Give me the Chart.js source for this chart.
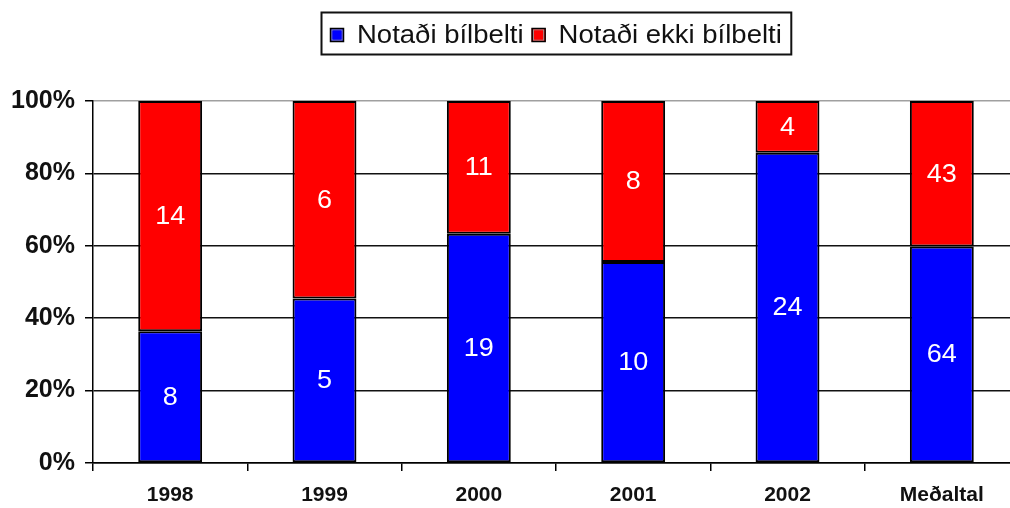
<!DOCTYPE html>
<html>
<head>
<meta charset="utf-8">
<script src="https://cdn.jsdelivr.net/npm/chart.js@4.4.1/dist/chart.umd.min.js"></script>
<style>
html, body { margin: 0; padding: 0; background: #fff; overflow: hidden; }
#wrap { width: 1030px; height: 508px; }
</style>
</head>
<body>
<div id="wrap"><canvas id="myChart" width="1030" height="508"></canvas></div>
<script>
// data
const years = ['1998', '1999', '2000', '2001', '2002', 'Meðaltal'];
const usedBelt = [8, 5, 19, 10, 24, 64];
const noBelt = [14, 6, 11, 8, 4, 43];
const seriesNames = ['Notaði bílbelti', 'Notaði ekki bílbelti'];
const seriesColors = ['#0000ff', '#ff0000'];
const yTicks = [0, 20, 40, 60, 80, 100];

// 100% stacked: share of each year
const usedPct = usedBelt.map((v, i) => v / (v + noBelt[i]) * 100);
const noPct = noBelt.map((v, i) => v / (v + usedBelt[i]) * 100);
const counts = [usedBelt, noBelt];

const FONT = '"Liberation Sans", Arial, sans-serif';

// white count labels inside each segment
const countLabels = {
    id: 'countLabels',
    afterDatasetsDraw(chart) {
        const ctx = chart.ctx;
        ctx.save();
        ctx.fillStyle = '#fff';
        ctx.font = '25px ' + FONT;
        ctx.textAlign = 'center';
        ctx.textBaseline = 'middle';
        chart.data.datasets.forEach((ds, di) => {
            chart.getDatasetMeta(di).data.forEach((bar, i) => {
                const p = bar.getProps(['x', 'y', 'base'], true);
                ctx.save();
                ctx.translate(p.x, (p.y + p.base) / 2 + 1);
                ctx.scale(1.08, 1);
                ctx.fillText(String(counts[di][i]), 0, 0);
                ctx.restore();
            });
        });
        ctx.restore();
    }
};

// boxed legend like the excel one
const boxLegend = {
    id: 'boxLegend',
    afterDraw(chart) {
        const ctx = chart.ctx;
        const area = chart.chartArea;
        ctx.save();
        ctx.font = '25px ' + FONT;
        const sx = 1.1;
        const sq = 14, gap = 13, pad = 9, between = 8;
        let total = pad * 2;
        seriesNames.forEach((n, i) => {
            total += sq + gap + ctx.measureText(n).width * sx;
            if (i < seriesNames.length - 1) total += between;
        });
        const cx = (area.left + area.right) / 2;
        let x = Math.round(cx - total / 2);
        const top = 12, h = 42;
        ctx.strokeStyle = '#111';
        ctx.lineWidth = 2;
        ctx.strokeRect(x + 0.5, top + 0.5, total, h);
        x += pad;
        seriesNames.forEach((n, i) => {
            ctx.fillStyle = seriesColors[i];
            ctx.fillRect(x, 28, sq, sq);
            ctx.strokeStyle = '#000';
            ctx.lineWidth = 1.5;
            ctx.strokeRect(x + 0.5, 28.5, sq - 1, sq - 1);
            ctx.strokeStyle = '#9a9a9a';
            ctx.lineWidth = 1;
            ctx.strokeRect(x + 2, 30, sq - 4, sq - 4);
            ctx.fillStyle = seriesColors[i];
            ctx.fillRect(x + 2.5, 30.5, sq - 5, sq - 5);
            x += sq + gap;
            ctx.fillStyle = '#111';
            ctx.textBaseline = 'alphabetic';
            ctx.save();
            ctx.translate(x, 43);
            ctx.scale(sx, 1);
            ctx.fillText(n, 0, 0);
            ctx.restore();
            x += ctx.measureText(n).width * sx + between;
        });
        ctx.restore();
    }
};

const ctx = document.getElementById('myChart');

new Chart(ctx, {
    type: 'bar',
    data: {
        labels: years,
        datasets: [{
            label: seriesNames[0],
            data: usedPct,
            backgroundColor: seriesColors[0],
            borderColor: '#000',
            borderWidth: 2,
            borderSkipped: false
        }, {
            label: seriesNames[1],
            data: noPct,
            backgroundColor: seriesColors[1],
            borderColor: '#000',
            borderWidth: 2,
            borderSkipped: false
        }]
    },
    options: {
        responsive: false,
        animation: false,
        devicePixelRatio: 1,
        barPercentage: 0.414,
        categoryPercentage: 1,
        layout: { padding: { top: 101, right: 11, left: 0, bottom: 0 } },
        plugins: {
            legend: { display: false },
            tooltip: { enabled: false }
        },
        scales: {
            x: {
                stacked: true,
                grid: {
                    offset: true,
                    drawOnChartArea: false,
                    tickLength: 8,
                    tickColor: '#000',
                    lineWidth: 1.5
                },
                border: { color: '#000', width: 1.5 },
                ticks: {
                    color: '#111',
                    font: { family: FONT, size: 21, weight: 'bold' },
                    padding: 12,
                    maxRotation: 0
                },
                afterFit(scale) { scale.height = 45; }
            },
            y: {
                stacked: true,
                min: 0,
                max: 100,
                afterBuildTicks(scale) { scale.ticks = yTicks.map(v => ({ value: v })); },
                grid: {
                    color: c => (c.tick && c.tick.value === 100) ? '#a0a0a0' : '#111',
                    tickColor: '#000',
                    tickLength: 8,
                    lineWidth: 1.5
                },
                border: { color: '#000', width: 1.5 },
                ticks: {
                    color: '#111',
                    font: { family: FONT, size: 25, weight: 'bold' },
                    padding: 10,
                    callback: v => v + '%'
                },
                afterFit(scale) { scale.width = 93; }
            }
        }
    },
    plugins: [countLabels, boxLegend]
});
</script>
</body>
</html>
